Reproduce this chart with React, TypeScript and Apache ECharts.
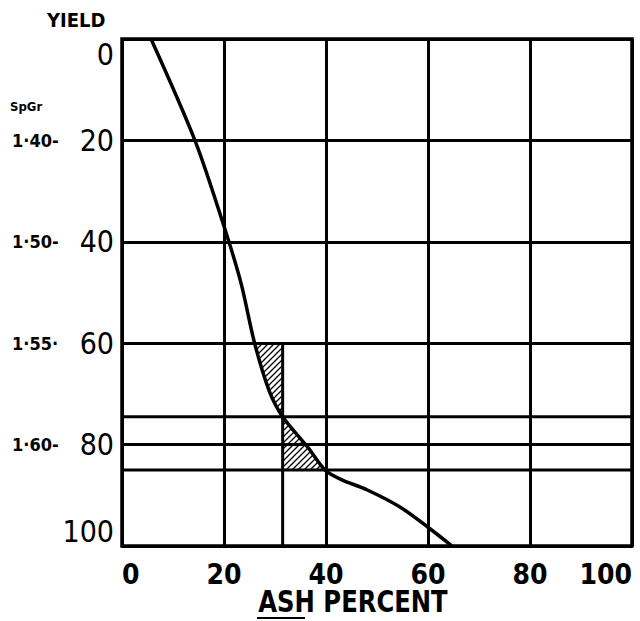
import React, { useEffect, useRef } from 'react';
import * as echarts from 'echarts';

// ---- data ----
const xTicks = [0, 20, 40, 60, 80, 100];
const yieldTicks = [0, 20, 40, 60, 80, 100];
const spgrYields = [20, 40, 60, 80];
const spgrLabels = ['1·40-', '1·50-', '1·55·', '1·60-'];

// washability curve: ash percent vs cumulative yield
const curveAsh = [5.7, 14.3, 19.7, 23.3, 26.0, 28.9, 31.5, 36.5, 39.8, 43.0, 48.0, 54.5, 60.0, 64.7];
const curveYield = [0, 20, 36, 48, 60, 69.5, 74.5, 80.6, 85, 86.9, 88.9, 92.3, 96.3, 100];

const cutAsh = 31.5;
const bandTop = 60;
const bandMid = 74.5;
const bandBottom = 85;
const extraYieldLines = [74.5, 85];
const cutLineYields = [60, 100];

const FONT = '"DejaVu Sans Condensed", "DejaVu Sans", sans-serif';

function makeHatch() {
  const s = 6;
  const c = document.createElement('canvas');
  c.width = s;
  c.height = s;
  const ctx = c.getContext('2d')!;
  ctx.strokeStyle = '#000';
  ctx.lineWidth = 1.3;
  ctx.beginPath();
  ctx.moveTo(0, s);
  ctx.lineTo(s, 0);
  ctx.moveTo(-1, 1);
  ctx.lineTo(1, -1);
  ctx.moveTo(s - 1, s + 1);
  ctx.lineTo(s + 1, s - 1);
  ctx.stroke();
  return c;
}

export default function App() {
  const ref = useRef<HTMLDivElement>(null);
  useEffect(() => {
    if (!ref.current) return;
    const chart = echarts.init(ref.current, undefined, { renderer: 'svg' });
    const curve = curveAsh.map((a, i) => [a, curveYield[i]]);
    const polyA = curve.filter((p) => p[1] >= bandTop && p[1] <= bandMid).concat([[cutAsh, bandTop]]);
    const polyB = curve.filter((p) => p[1] >= bandMid && p[1] <= bandBottom).concat([[cutAsh, bandBottom]]);
    const hatchPolys = [polyA, polyB];
    const hatch = makeHatch();
    const lineStyle = { color: '#000', width: 3 };

    const series: any[] = [
      {
        type: 'custom',
        coordinateSystem: 'cartesian2d',
        data: hatchPolys.map((_, i) => [cutAsh, bandTop, i]),
        z: 1,
        silent: true,
        renderItem: (params: any, api: any) => {
          const poly = hatchPolys[params.dataIndex];
          return {
            type: 'polygon',
            shape: { points: poly.map((p) => api.coord(p)) },
            style: { fill: { image: hatch, repeat: 'repeat' }, stroke: null },
          };
        },
      },
      ...extraYieldLines.map((y) => ({
        type: 'line',
        data: [[0, y], [100, y]],
        symbol: 'none',
        lineStyle,
        z: 2,
      })),
      {
        type: 'line',
        data: cutLineYields.map((y) => [cutAsh, y]),
        symbol: 'none',
        lineStyle,
        z: 2,
      },
      {
        type: 'line',
        data: curve,
        smooth: 0.3,
        symbol: 'none',
        lineStyle: { color: '#000', width: 3.5 },
        z: 3,
      },
    ];

    chart.setOption({
      animation: false,
      backgroundColor: '#fff',
      grid: {
        left: 122,
        top: 39,
        width: 510,
        height: 507,
        show: true,
        outerBoundsMode: 'none',
        containLabel: false,
        borderColor: '#000',
        borderWidth: 3.5,
        backgroundColor: 'transparent',
      },
      xAxis: {
        type: 'value',
        min: xTicks[0],
        max: xTicks[xTicks.length - 1],
        interval: 20,
        axisLine: { show: false },
        axisTick: { show: false },
        splitLine: { lineStyle: { color: '#000', width: 3 } },
        axisLabel: {
          color: '#000',
          fontFamily: FONT,
          fontSize: 28,
          fontWeight: 'bold',
          margin: 14,
          alignMinLabel: 'left',
          alignMaxLabel: 'right',
          formatter: (v: number) => (xTicks.includes(v) ? String(v) : ''),
        },
      },
      yAxis: [
        {
          type: 'value',
          inverse: true,
          min: yieldTicks[0],
          max: yieldTicks[yieldTicks.length - 1],
          interval: 20,
          axisLine: { show: false },
          axisTick: { show: false },
          splitLine: { lineStyle: { color: '#000', width: 3 } },
          axisLabel: {
            color: '#000',
            fontFamily: FONT,
            fontSize: 30,
            margin: 8,
            verticalAlignMinLabel: 'top',
            verticalAlignMaxLabel: 'bottom',
            formatter: (v: number) => (yieldTicks.includes(v) ? String(v) : ''),
          },
        },
        {
          type: 'value',
          inverse: true,
          position: 'left',
          min: yieldTicks[0],
          max: yieldTicks[yieldTicks.length - 1],
          interval: 20,
          axisLine: { show: false },
          axisTick: { show: false },
          splitLine: { show: false },
          axisLabel: {
            color: '#000',
            fontFamily: FONT,
            fontSize: 18,
            fontWeight: 'bold',
            align: 'left',
            margin: 110,
            formatter: (v: number) => {
              const i = spgrYields.indexOf(v);
              return i >= 0 ? spgrLabels[i] : '';
            },
          },
        },
      ],
      graphic: [
        {
          type: 'text',
          left: 47,
          top: 10,
          style: { text: 'YIELD', fill: '#000', font: `bold 20px ${FONT}` },
        },
        {
          type: 'text',
          left: 10,
          top: 100,
          style: { text: 'SpGr', fill: '#000', font: `bold 13px ${FONT}` },
        },
        {
          type: 'group',
          x: 353,
          y: 602,
          scaleX: 0.9,
          children: [
            {
              type: 'text',
              x: 0,
              y: 0,
              style: {
                text: 'ASH PERCENT',
                fill: '#000',
                font: `bold 30px ${FONT}`,
                align: 'center',
                verticalAlign: 'middle',
              },
            },
          ],
        },
        {
          type: 'line',
          shape: { x1: 257, y1: 618, x2: 305, y2: 618 },
          style: { stroke: '#000', lineWidth: 2 },
        },
      ],
      series,
    });
    return () => chart.dispose();
  }, []);
  return <div ref={ref} style={{ position: 'fixed', left: 0, top: 0, width: 640, height: 621, background: '#fff' }} />;
}
